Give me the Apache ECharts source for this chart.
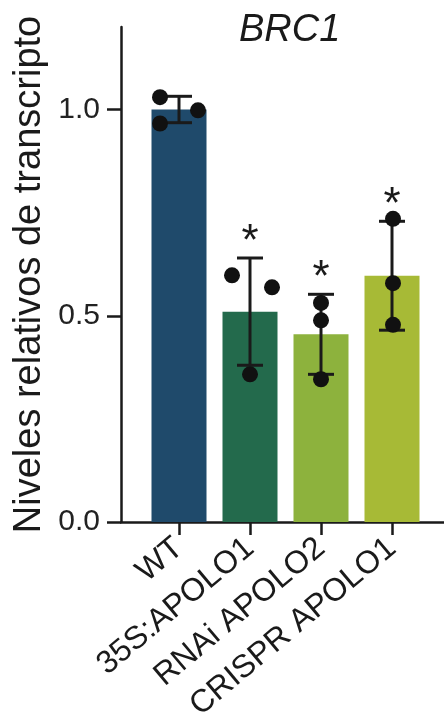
<!DOCTYPE html>
<html>
<head>
<meta charset="utf-8">
<script src="https://cdn.jsdelivr.net/npm/echarts@6/dist/echarts.min.js"></script>
<style>
html,body{margin:0;padding:0;background:#fff;}
#chart{width:444px;height:717px;}
</style>
</head>
<body>
<div id="chart"></div>
<script>
// ---- data ----
const categories = ['WT', '35S:APOLO1', 'RNAi APOLO2', 'CRISPR APOLO1'];
const means = [1.00, 0.51, 0.455, 0.597];
const sds = [0.032, 0.13, 0.097, 0.132];
const replicates = [
  [1.03, 0.966, 0.998],
  [0.598, 0.569, 0.358],
  [0.531, 0.489, 0.346],
  [0.735, 0.579, 0.478]
];
const significant = [false, true, true, true];
const yTicks = [0, 0.5, 1.0];
const title = 'BRC1';
const yName = 'Niveles relativos de transcripto';

// ---- styling ----
const barColors = ['#1f4a6b', '#236a4c', '#8db23d', '#a7ba36'];
const jitterPx = [[-19, -19, 19], [-18, 22, 0], [0, 0, 0], [1, 1, 1]];
const FONT = 'Liberation Sans, Arial, Helvetica, sans-serif';
const INK = '#1a1a1a';

const dotData = [];
replicates.forEach((reps, i) => reps.forEach((v, k) => {
  dotData.push({ value: [i, v], symbolOffset: [jitterPx[i][k], 0] });
}));

const chart = echarts.init(document.getElementById('chart'), null, { renderer: 'canvas' });
chart.setOption({
  backgroundColor: '#ffffff',
  animation: false,
  title: {
    text: title, left: 234, top: 6,
    textStyle: { fontFamily: FONT, fontSize: 38, fontStyle: 'italic', fontWeight: 'normal', color: INK }
  },
  grid: [
    { left: 121, right: 0, top: 27, bottom: 195, outerBoundsMode: 'none', containLabel: false },
    { left: 143.5, right: 16.5, top: 27, bottom: 195, outerBoundsMode: 'none', containLabel: false }
  ],
  xAxis: [
    { gridIndex: 0, type: 'value', min: 0, max: 1,
      axisLine: { show: true, lineStyle: { color: INK, width: 2.5 } },
      axisTick: { show: false }, axisLabel: { show: false }, splitLine: { show: false } },
    { gridIndex: 1, type: 'category', data: categories,
      axisLine: { show: false },
      axisTick: { show: true, alignWithLabel: true, length: 13, lineStyle: { color: INK, width: 2.5 } },
      axisLabel: { rotate: 40, fontFamily: FONT, fontSize: 32, color: INK, margin: 22, interval: 0 },
      splitLine: { show: false } }
  ],
  yAxis: [
    { gridIndex: 0, type: 'value', min: 0, max: 1.2,
      name: yName, nameLocation: 'middle', nameRotate: 90, nameGap: 72, nameMoveOverlap: false,
      nameTextStyle: { fontFamily: FONT, fontSize: 38, color: INK },
      axisLine: { show: true, lineStyle: { color: INK, width: 2.5 } },
      axisTick: { show: true, length: 14, customValues: yTicks, lineStyle: { color: INK, width: 2.5 } },
      axisLabel: { customValues: yTicks, fontFamily: FONT, fontSize: 30, color: '#222', margin: 21,
        formatter: v => v.toFixed(1) },
      splitLine: { show: false } },
    { gridIndex: 1, type: 'value', min: 0, max: 1.2, show: false }
  ],
  series: [
    { type: 'bar', xAxisIndex: 1, yAxisIndex: 1, barWidth: 55,
      data: means.map((m, i) => ({ value: m, itemStyle: { color: barColors[i] } })) },
    { type: 'custom', xAxisIndex: 1, yAxisIndex: 1, z: 5,
      data: means.map((m, i) => [i, m - sds[i], m + sds[i]]),
      renderItem: function (params, api) {
        const lo = api.coord([api.value(0), api.value(1)]);
        const hi = api.coord([api.value(0), api.value(2)]);
        const hw = 13;
        const ls = { stroke: INK, lineWidth: 3 };
        return { type: 'group', children: [
          { type: 'line', shape: { x1: lo[0], y1: lo[1], x2: hi[0], y2: hi[1] }, style: ls },
          { type: 'line', shape: { x1: hi[0] - hw, y1: hi[1], x2: hi[0] + hw, y2: hi[1] }, style: ls },
          { type: 'line', shape: { x1: lo[0] - hw, y1: lo[1], x2: lo[0] + hw, y2: lo[1] }, style: ls }
        ]};
      } },
    { type: 'scatter', xAxisIndex: 1, yAxisIndex: 1, z: 6, symbol: 'circle', symbolSize: 16,
      itemStyle: { color: '#111', opacity: 1 }, data: dotData },
    { type: 'custom', xAxisIndex: 1, yAxisIndex: 1, z: 7,
      data: means.map((m, i) => [i, m + sds[i], significant[i] ? 1 : 0]),
      renderItem: function (params, api) {
        if (!api.value(2)) return null;
        const p = api.coord([api.value(0), api.value(1)]);
        return { type: 'text', x: p[0], y: p[1] - 15,
          style: { text: '*', fontSize: 44, fontFamily: FONT, fill: INK, align: 'center', verticalAlign: 'middle' } };
      } }
  ]
});
</script>
</body>
</html>
